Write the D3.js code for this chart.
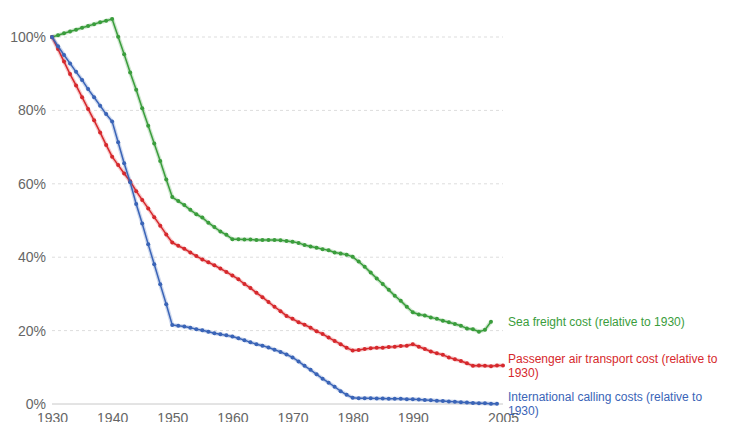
<!DOCTYPE html>
<html>
<head>
<meta charset="utf-8">
<script src="https://cdn.jsdelivr.net/npm/d3@7"></script>
<style>
  html, body { margin: 0; padding: 0; background: #fff; }
  svg { display: block; font-family: "Liberation Sans", Arial, Helvetica, sans-serif; }
</style>
</head>
<body>
<svg id="chart" width="730" height="422"></svg>
<script>
// ---- DATA ----
const seaYears = d3.range(1930, 2004);
const seaFreight = [
  100, 100.5, 101, 101.5, 102, 102.5, 103, 103.5, 104, 104.4, 104.9,
  100.1, 95.3, 90.3, 85.6, 80.6, 75.8, 71.0, 66.2, 61.2, 56.4,
  55.3, 54.2, 52.9, 51.7, 50.8, 49.4, 48.2, 47.0, 46.1, 44.9,
  44.9, 44.8, 44.8, 44.7, 44.7, 44.7, 44.7, 44.6, 44.4, 44.2,
  43.9, 43.3, 42.9, 42.6, 42.2, 41.9, 41.3, 41.0, 40.7, 40.1,
  38.8, 37.4, 35.8, 34.2, 32.7, 31.1, 29.5, 28.1, 26.5, 25.0,
  24.4, 24.1, 23.6, 23.2, 22.7, 22.3, 21.8, 21.3, 20.6, 20.4,
  19.7, 20.2, 22.4
];
const airYears = d3.range(1930, 2006);
const airTransport = [
  100, 96.7, 93.3, 89.9, 86.8, 83.6, 80.4, 77.3, 74.0, 70.6, 67.4,
  65.1, 62.8, 60.7, 58.0, 55.6, 53.3, 50.9, 48.6, 46.2, 44.0,
  43.1, 42.3, 41.3, 40.3, 39.4, 38.6, 37.8, 36.9, 36.0, 35.0,
  34.0, 32.7, 31.6, 30.3, 29.1, 27.8, 26.5, 25.3, 24.0, 23.2,
  22.3, 21.6, 20.8, 19.8, 19.1, 18.1, 17.2, 16.3, 15.3, 14.6,
  14.7, 15.0, 15.2, 15.3, 15.3, 15.5, 15.6, 15.8, 15.9, 16.3,
  15.6, 15.0, 14.3, 13.8, 13.4, 12.7, 12.2, 11.7, 11.1, 10.4,
  10.5, 10.4, 10.3, 10.5, 10.5
];
const callYears = d3.range(1930, 2005);
const callingCosts = [
  100, 97.5, 95.1, 92.8, 90.5, 88.3, 85.8, 83.6, 81.3, 79.0, 77.0,
  71.3, 65.6, 60.4, 54.5, 49.2, 43.5, 38.1, 32.6, 27.2, 21.5,
  21.3, 21.1, 20.8, 20.4, 20.1, 19.7, 19.3, 19.0, 18.7, 18.4,
  17.9, 17.4, 16.8, 16.3, 15.9, 15.4, 14.8, 14.2, 13.5, 12.7,
  11.6, 10.4, 9.3, 8.1, 6.9, 5.8, 4.7, 3.5, 2.5, 1.7,
  1.6, 1.6, 1.6, 1.5, 1.5, 1.4, 1.4, 1.4, 1.3, 1.3,
  1.2, 1.1, 1.0, 0.9, 0.8, 0.7, 0.6, 0.5, 0.4, 0.3,
  0.2, 0.2, 0.1, 0.1
];
const seriesNames = [
  ["Sea freight cost (relative to 1930)"],
  ["Passenger air transport cost (relative to", "1930)"],
  ["International calling costs (relative to", "1930)"]
];
const xTickYears = [1930, 1940, 1950, 1960, 1970, 1980, 1990, 2005];
const yTickValues = [0, 20, 40, 60, 80, 100];

// ---- CHART ----
const colors = ["#3a9d3c", "#d6282c", "#3a64b7"];
const series = [
  { years: seaYears, values: seaFreight, name: seriesNames[0], color: colors[0] },
  { years: airYears, values: airTransport, name: seriesNames[1], color: colors[1] },
  { years: callYears, values: callingCosts, name: seriesNames[2], color: colors[2] }
];

const svg = d3.select("#chart");
const x = d3.scaleLinear().domain([1930, 2005]).range([52, 503]);
const y = d3.scaleLinear().domain([0, 100]).range([404, 37]);

// gridlines
const grid = svg.append("g");
grid.selectAll("line").data(yTickValues.filter(v => v > 0)).enter().append("line")
  .attr("x1", x(1930)).attr("x2", x(2005))
  .attr("y1", d => y(d)).attr("y2", d => y(d))
  .attr("stroke", "#dddddd").attr("stroke-width", 1)
  .attr("stroke-dasharray", "3,3");

// baseline
svg.append("line")
  .attr("x1", x(1930)).attr("x2", x(2005))
  .attr("y1", y(0)).attr("y2", y(0))
  .attr("stroke", "#c8c8c8").attr("stroke-width", 1);

// y axis labels
const yAxis = d3.axisLeft(y).tickValues(yTickValues).tickFormat(d => d + "%").tickSize(0).tickPadding(6);
const yg = svg.append("g").attr("transform", `translate(${x(1930)},0)`).call(yAxis);
yg.select(".domain").remove();
yg.selectAll("text").attr("fill", "#666").style("font-size", "14px")
  .style("font-family", '"Liberation Sans", Arial, sans-serif');

// x axis labels
const xAxis = d3.axisBottom(x).tickValues(xTickYears).tickFormat(d3.format("d")).tickSize(0).tickPadding(0);
const xg = svg.append("g").attr("transform", `translate(0,${y(0)})`).call(xAxis);
xg.select(".domain").remove();
xg.selectAll("text").attr("fill", "#666").style("font-size", "14px")
  .style("font-family", '"Liberation Sans", Arial, sans-serif')
  .attr("dy", null).attr("y", 19);

// lines
const line = d3.line().x(d => x(d[0])).y(d => y(d[1]));
series.forEach(s => {
  const pts = s.years.map((yr, i) => [yr, s.values[i]]);
  const g = svg.append("g");
  g.append("path").datum(pts).attr("d", line)
    .attr("fill", "none").attr("stroke", s.color).attr("stroke-opacity", 0.25)
    .attr("stroke-width", 4).attr("stroke-linejoin", "round");
  g.append("path").datum(pts).attr("d", line)
    .attr("fill", "none").attr("stroke", s.color)
    .attr("stroke-width", 1.5).attr("stroke-linejoin", "round");
  g.selectAll("circle").data(pts).enter().append("circle")
    .attr("cx", d => x(d[0])).attr("cy", d => y(d[1])).attr("r", 2)
    .attr("fill", s.color);

  // label
  const last = pts[pts.length - 1];
  const lh = 14;
  const cy = y(last[1]);
  const n = s.name.length;
  const t = svg.append("text")
    .attr("x", 508)
    .attr("fill", s.color)
    .style("font-size", "12px");
  s.name.forEach((ln, i) => {
    t.append("tspan").attr("x", 508)
      .attr("y", cy - (n - 1) * lh / 2 + i * lh + 4.3)
      .text(ln);
  });
});
</script>
</body>
</html>
